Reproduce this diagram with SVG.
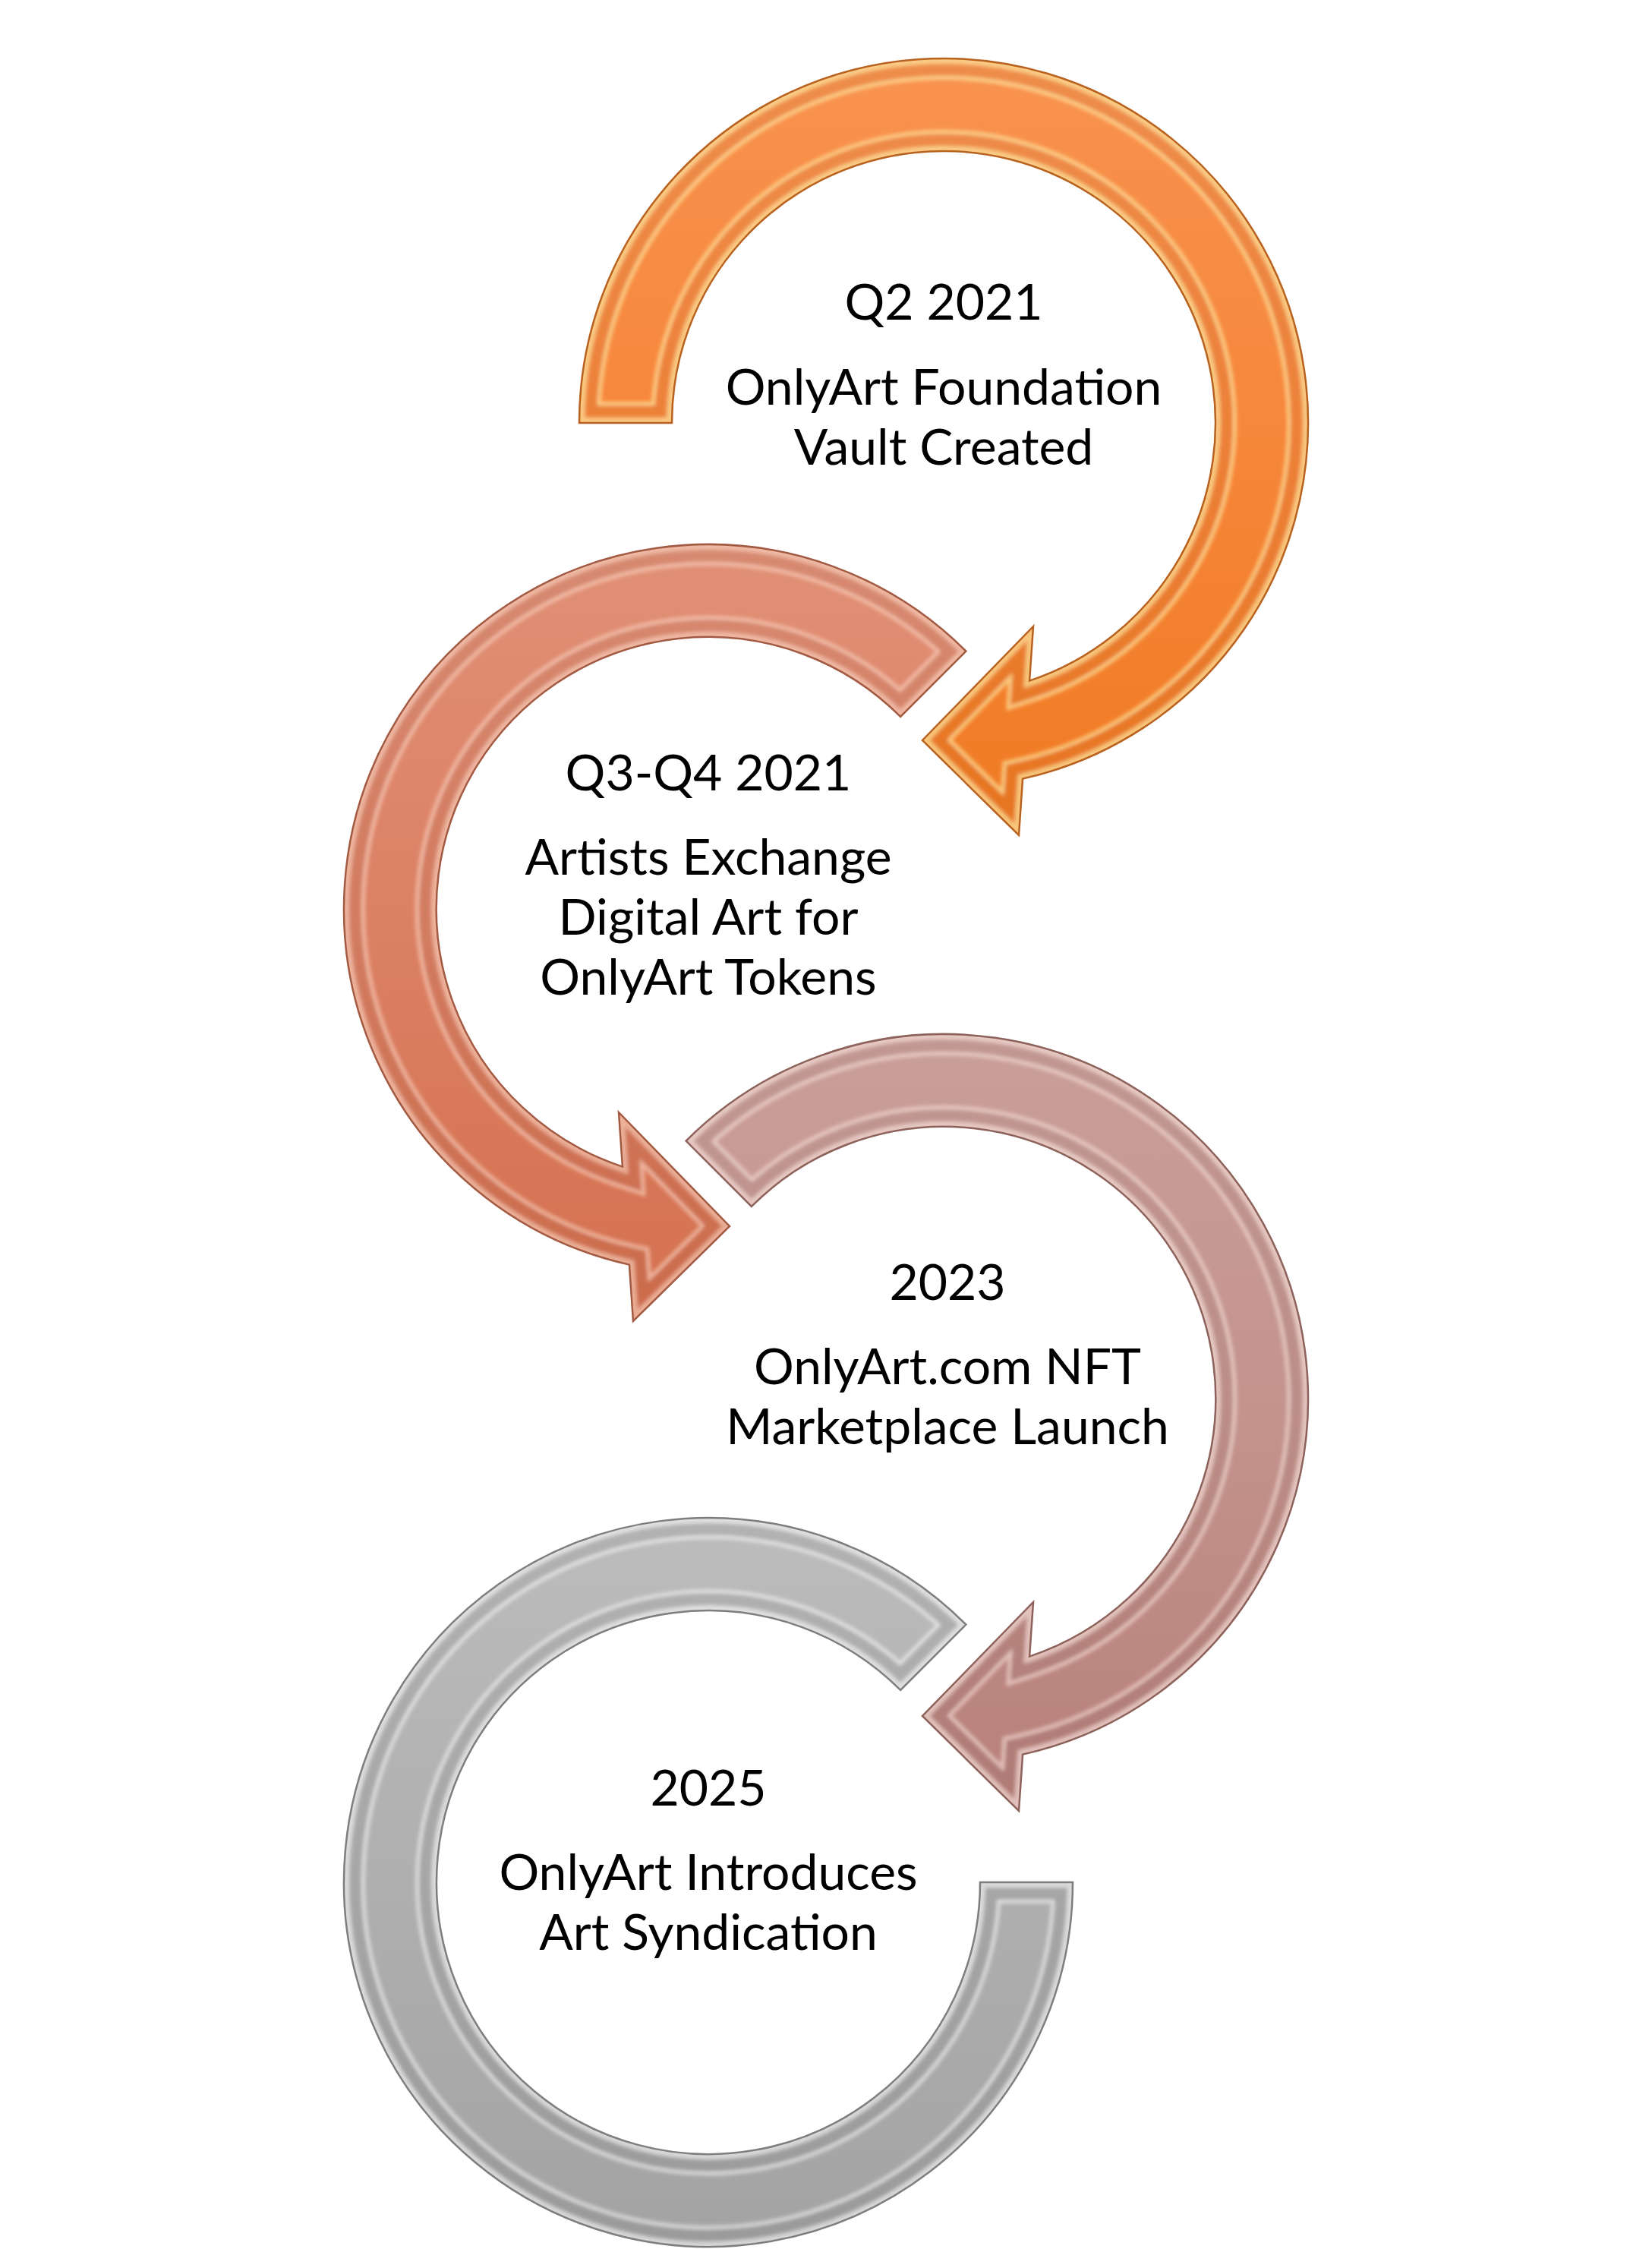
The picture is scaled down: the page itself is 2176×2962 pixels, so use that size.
<svg xmlns="http://www.w3.org/2000/svg" xmlns:xlink="http://www.w3.org/1999/xlink" width="2176" height="2962" viewBox="0 0 2176 2962">
<style>
  .lbl { font-family: Lato, "Liberation Sans", sans-serif; font-size: 66px; fill: #000; text-anchor: middle; }
  .band { fill: none; stroke-linejoin: miter; stroke-miterlimit: 10; }
  .edge { fill: none; stroke-width: 2.5; stroke-linejoin: miter; }
</style>
<defs>
  <path id="a1" d="M 763 557 A 480 480 0 1 1 1347.1 1025.6 L 1342 1100 L 1215 975 L 1361 825 L 1356.05 896.6 A 358 358 0 1 0 885 557 Z"/>
  <path id="a2" d="M 1272.4 857.6 A 480 480 0 1 0 828.9 1665.6 L 834 1740 L 961 1615 L 815 1465 L 819.95 1536.6 A 358 358 0 1 1 1186.1 943.9 Z"/>
  <path id="a3" d="M 903.6 1502.6 A 480 480 0 1 1 1347.1 2310.6 L 1342 2385 L 1215 2260 L 1361 2110 L 1356.05 2181.6 A 358 358 0 1 0 989.9 1588.9 Z"/>
  <path id="a4" d="M 1272.4 2139.6 A 480 480 0 1 0 1413 2479 L 1291 2479 A 358 358 0 1 1 1186.1 2225.9 Z"/>
  <clipPath id="c1"><use xlink:href="#a1"/></clipPath>
  <clipPath id="c2"><use xlink:href="#a2"/></clipPath>
  <clipPath id="c3"><use xlink:href="#a3"/></clipPath>
  <clipPath id="c4"><use xlink:href="#a4"/></clipPath>
  <filter id="soft" x="-5%" y="-5%" width="110%" height="110%">
    <feGaussianBlur stdDeviation="2.5"/>
  </filter>
  <linearGradient id="g1" x1="0" y1="0" x2="0" y2="1">
    <stop offset="0" stop-color="#F8934F"/><stop offset="0.5" stop-color="#F6863A"/><stop offset="1" stop-color="#F07A22"/>
  </linearGradient>
  <linearGradient id="g2" x1="0" y1="0" x2="0" y2="1">
    <stop offset="0" stop-color="#E09076"/><stop offset="0.5" stop-color="#DB8064"/><stop offset="1" stop-color="#D4704E"/>
  </linearGradient>
  <linearGradient id="g3" x1="0" y1="0" x2="0" y2="1">
    <stop offset="0" stop-color="#CA9F99"/><stop offset="0.5" stop-color="#C3938C"/><stop offset="1" stop-color="#B8807A"/>
  </linearGradient>
  <linearGradient id="g4" x1="0" y1="0" x2="0" y2="1">
    <stop offset="0" stop-color="#BCBCBC"/><stop offset="0.5" stop-color="#AFAFAF"/><stop offset="1" stop-color="#A3A3A3"/>
  </linearGradient>
</defs>
<rect width="2176" height="2962" fill="#FFFFFF"/>

<g id="stage-4">
  <use xlink:href="#a4" fill="url(#g4)"/>
  <g clip-path="url(#c4)">
    <g filter="url(#soft)">
      <use xlink:href="#a4" class="band" stroke="#FFFFFF" stroke-opacity="0.55" stroke-width="56"/>
      <use xlink:href="#a4" class="band" stroke="url(#g4)" stroke-width="46"/>
      <use xlink:href="#a4" class="band" stroke="#000000" stroke-opacity="0.05" stroke-width="46"/>
      <use xlink:href="#a4" class="band" stroke="#FFFFFF" stroke-opacity="0.6" stroke-width="14"/>
    </g>
  </g>
  <use xlink:href="#a4" class="edge" stroke="#7E7E7E"/>
  <text class="lbl" x="933" y="2378">2025</text>
  <text class="lbl" x="933" y="2489">OnlyArt Introduces</text>
  <text class="lbl" x="933" y="2568">Art Syndication</text>
</g>

<g id="stage-3">
  <use xlink:href="#a3" fill="url(#g3)"/>
  <g clip-path="url(#c3)">
    <g filter="url(#soft)">
      <use xlink:href="#a3" class="band" stroke="#FBE4DF" stroke-opacity="0.6" stroke-width="56"/>
      <use xlink:href="#a3" class="band" stroke="url(#g3)" stroke-width="46"/>
      <use xlink:href="#a3" class="band" stroke="#000000" stroke-opacity="0.04" stroke-width="46"/>
      <use xlink:href="#a3" class="band" stroke="#FBE4DF" stroke-opacity="0.65" stroke-width="14"/>
    </g>
  </g>
  <use xlink:href="#a3" class="edge" stroke="#8C625B"/>
  <text class="lbl" x="1248" y="1712">2023</text>
  <text class="lbl" x="1248" y="1823">OnlyArt.com NFT</text>
  <text class="lbl" x="1248" y="1902">Marketplace Launch</text>
</g>

<g id="stage-2">
  <use xlink:href="#a2" fill="url(#g2)"/>
  <g clip-path="url(#c2)">
    <g filter="url(#soft)">
      <use xlink:href="#a2" class="band" stroke="#FFD9C6" stroke-opacity="0.6" stroke-width="56"/>
      <use xlink:href="#a2" class="band" stroke="url(#g2)" stroke-width="46"/>
      <use xlink:href="#a2" class="band" stroke="#000000" stroke-opacity="0.04" stroke-width="46"/>
      <use xlink:href="#a2" class="band" stroke="#FFD9C6" stroke-opacity="0.6" stroke-width="14"/>
    </g>
  </g>
  <use xlink:href="#a2" class="edge" stroke="#A35A42"/>
  <text class="lbl" x="933" y="1041">Q3-Q4 2021</text>
  <text class="lbl" x="933" y="1152">Artists Exchange</text>
  <text class="lbl" x="933" y="1231">Digital Art for</text>
  <text class="lbl" x="933" y="1310">OnlyArt Tokens</text>
</g>

<g id="stage-1">
  <use xlink:href="#a1" fill="url(#g1)"/>
  <g clip-path="url(#c1)">
    <g filter="url(#soft)">
      <use xlink:href="#a1" class="band" stroke="#FFE7A0" stroke-opacity="0.7" stroke-width="56"/>
      <use xlink:href="#a1" class="band" stroke="url(#g1)" stroke-width="46"/>
      <use xlink:href="#a1" class="band" stroke="#000000" stroke-opacity="0.04" stroke-width="46"/>
      <use xlink:href="#a1" class="band" stroke="#FFE7A0" stroke-opacity="0.7" stroke-width="14"/>
    </g>
  </g>
  <use xlink:href="#a1" class="edge" stroke="#B9621F"/>
  <text class="lbl" x="1243" y="421">Q2 2021</text>
  <text class="lbl" x="1243" y="533">OnlyArt Foundation</text>
  <text class="lbl" x="1243" y="612">Vault Created</text>
</g>
</svg>
